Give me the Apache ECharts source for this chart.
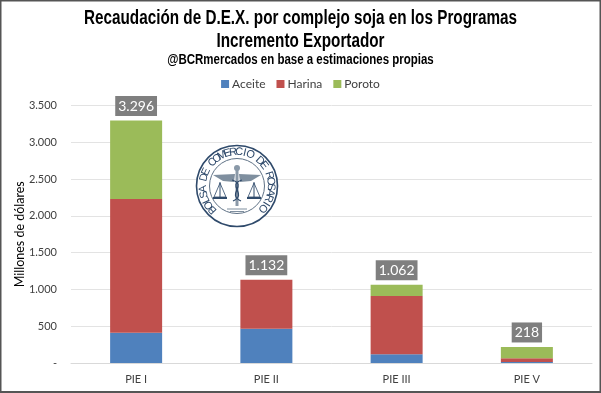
<!DOCTYPE html>
<html><head><meta charset="utf-8">
<style>html,body{margin:0;padding:0;background:#fff}#c{width:601px;height:393px}</style>
<script src="https://cdn.jsdelivr.net/npm/echarts@6/dist/echarts.min.js"></script>
</head><body><div id="c"></div>
<script>
const categories = ['PIE I','PIE II','PIE III','PIE V'];
const aceite = [410,465,120,15];
const harina = [1818,667,790,50];
const poroto = [1068,0,152,153];
const totals = [3296,1132,1062,218];
const titleLines = ['Recaudación de D.E.X. por complejo soja en los Programas','Incremento Exportador'];
const subtitle = '@BCRmercados en base a estimaciones propias';
const yTicksMax = 3500;
const fmt = v => v === 0 ? '-' : String(v).replace(/\B(?=(\d{3})+$)/g,'.');
const sans = 'Lato, "Open Sans", sans-serif';
const bold = 'bold 20px "Liberation Sans", sans-serif';

// Seal drawn as a decorative watermark
const cx = 237, cy = 186, navy = '#2f4a6b';
const seal = [
  {type:'circle',shape:{cx,cy,r:40.5},style:{fill:'#fff',stroke:navy,lineWidth:1.6},z:1},
  {type:'circle',shape:{cx,cy,r:27.5},style:{fill:'#fff',stroke:'#5f7286',lineWidth:1},z:1},
  {type:'line',shape:{x1:cx,y1:cy-19,x2:cx,y2:cy+20},style:{stroke:'#8a99a8',lineWidth:3},z:2},
  {type:'circle',shape:{cx,cy:cy-18,r:3},style:{fill:'#8a99a8'},z:2},
  {type:'polygon',shape:{points:[[cx-2,cy-12],[cx-24,cy-11],[cx-14,cy-5],[cx-3,cy-4]]},style:{fill:'#7f8f9f'},z:2},
  {type:'polygon',shape:{points:[[cx+2,cy-12],[cx+24,cy-11],[cx+14,cy-5],[cx+3,cy-4]]},style:{fill:'#7f8f9f'},z:2},
  {type:'line',shape:{x1:cx-17,y1:cy-4,x2:cx-17,y2:cy+13},style:{stroke:navy,lineWidth:1},z:2},
  {type:'line',shape:{x1:cx+17,y1:cy-4,x2:cx+17,y2:cy+13},style:{stroke:navy,lineWidth:1},z:2},
  {type:'polygon',shape:{points:[[cx-17,cy-3],[cx-23,cy+11],[cx-11,cy+11]]},style:{fill:'none',stroke:navy,lineWidth:0.8},z:2},
  {type:'polygon',shape:{points:[[cx+17,cy-3],[cx+23,cy+11],[cx+11,cy+11]]},style:{fill:'none',stroke:navy,lineWidth:0.8},z:2},
  {type:'line',shape:{x1:cx-24,y1:cy+12,x2:cx-10,y2:cy+12},style:{stroke:navy,lineWidth:2},z:2},
  {type:'line',shape:{x1:cx+10,y1:cy+12,x2:cx+24,y2:cy+12},style:{stroke:navy,lineWidth:2},z:2},
  {type:'bezierCurve',shape:{x1:cx-5,y1:cy-6,x2:cx+4,y2:cy+15,cpx1:cx+11,cpy1:cy-1,cpx2:cx-11,cpy2:cy+8},style:{fill:'none',stroke:navy,lineWidth:1.3},z:3},
  {type:'bezierCurve',shape:{x1:cx+5,y1:cy-6,x2:cx-4,y2:cy+15,cpx1:cx-11,cpy1:cy-1,cpx2:cx+11,cpy2:cy+8},style:{fill:'none',stroke:navy,lineWidth:1.3},z:3},
  {type:'line',shape:{x1:cx-10,y1:cy+23,x2:cx+10,y2:cy+23},style:{stroke:'#7f8f9f',lineWidth:1},z:3},
  {type:'line',shape:{x1:cx-7,y1:cy+25.5,x2:cx+7,y2:cy+25.5},style:{stroke:'#7f8f9f',lineWidth:1},z:3}
];
const sealText = 'BOLSA DE COMERCIO DE ROSARIO';
const startA = -134, endA = 131, rT = 34;
[...sealText].forEach((ch,i)=>{
  const a = startA + (endA-startA)*i/(sealText.length-1);
  const rad = a*Math.PI/180;
  seal.push({type:'text',x:cx+rT*Math.sin(rad),y:cy-rT*Math.cos(rad),rotation:-rad,
    style:{text:ch,fill:navy,font:'11px "Liberation Sans", sans-serif',align:'center',verticalAlign:'middle'},z:3});
});

const heading = [
  {type:'text',x:300.5,y:18,scaleX:0.764,style:{text:titleLines[0],font:bold,fill:'#000',align:'center',verticalAlign:'middle'},z:10},
  {type:'text',x:300.5,y:41,scaleX:0.764,style:{text:titleLines[1],font:bold,fill:'#000',align:'center',verticalAlign:'middle'},z:10},
  {type:'text',x:300.5,y:60,scaleX:0.82,style:{text:subtitle,font:'bold 14px "Liberation Sans", sans-serif',fill:'#000',align:'center',verticalAlign:'middle'},z:10}
];

const mk = (name,data,color) => ({name,type:'bar',stack:'t',data,barWidth:52,z:4,
  itemStyle:{color},emphasis:{disabled:true}});

const chart = echarts.init(document.getElementById('c'),null,{renderer:'canvas'});
chart.setOption({
  animation:false,
  backgroundColor:'#fff',
  textStyle:{fontFamily:sans},
  graphic:[
    {type:'rect',shape:{x:0.5,y:0.5,width:600,height:391.5},style:{fill:'none',stroke:'#555',lineWidth:2},z:100},
    ...heading,
    ...seal
  ],
  legend:{data:['Aceite','Harina','Poroto'],top:73,left:'center',itemWidth:8,itemHeight:8,itemGap:11,icon:'rect',
    textStyle:{fontFamily:sans,fontSize:12,color:'#404040',padding:[0,0,0,-2]}},
  grid:{left:71,right:9,top:105.5,bottom:30,outerBoundsMode:'none'},
  xAxis:{type:'category',data:categories,axisTick:{show:false},
    axisLine:{lineStyle:{color:'#d9d9d9',width:1}},
    axisLabel:{fontFamily:sans,fontSize:11,color:'#404040',margin:11}},
  yAxis:{type:'value',min:0,max:yTicksMax,interval:500,
    name:'Millones de dólares',nameLocation:'middle',nameGap:45,nameMoveOverlap:false,
    nameTextStyle:{fontFamily:sans,fontSize:12.5,color:'#000'},
    axisLine:{show:false},axisTick:{show:false},
    splitLine:{lineStyle:{color:'#e3e3e3',width:1}},
    axisLabel:{fontFamily:sans,fontSize:11,color:'#404040',margin:14,formatter:fmt}},
  series:[
    mk('Aceite',aceite,'#4f81bd'),
    mk('Harina',harina,'#c0504d'),
    mk('Poroto',poroto,'#9bbb59'),
    {name:'Total',type:'line',data:totals,symbol:'circle',symbolSize:1,showSymbol:true,showAllSymbol:true,
     itemStyle:{color:'rgba(0,0,0,0)'},lineStyle:{opacity:0},z:6,silent:true,
     label:{show:true,position:'top',distance:4,formatter:p=>fmt(p.value),color:'#fff',fontFamily:sans,fontSize:14,
       backgroundColor:'#7f7f7f',padding:[3,3,3,3]}}
  ]
});
</script></body></html>
